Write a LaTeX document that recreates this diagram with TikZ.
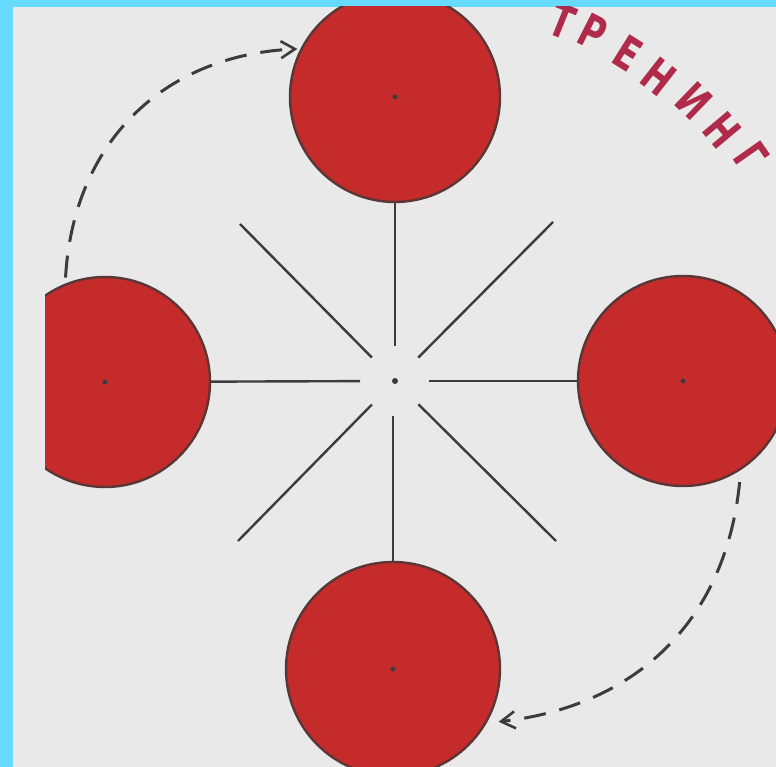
\documentclass[tikz,border=0pt]{standalone}
\usepackage{fontspec}
\newfontfamily\stencil{DejaVu Sans}
\usetikzlibrary{arrows.meta}
\definecolor{cyanbg}{HTML}{66DAFF}
\definecolor{paper}{HTML}{E9E9E9}
\definecolor{disc}{HTML}{C52B2B}
\definecolor{discedge}{HTML}{5A3636}
\definecolor{ink}{HTML}{3C3C3C}
\definecolor{word}{HTML}{B02A4A}
\tikzset{
  disc/.style={circle, fill=disc, draw=discedge, line width=2.4pt, inner sep=0pt, minimum size=210pt},
  spoke/.style={draw=ink, line width=2.4pt},
  dasharrow/.style={draw=ink, line width=3pt, dash pattern=on 22pt off 14pt,
    -{Straight Barb[length=14pt,width=17pt,line width=2.6pt]}},
  letter/.style={text=word, font=\stencil\bfseries\fontsize{46}{46}\selectfont, inner sep=0pt, rotate=#1}
}
\newcommand{\sq}[1]{\scalebox{0.72}[1]{#1}}
\begin{document}
\begin{tikzpicture}[x=1pt,y=-1pt]
\useasboundingbox (0,0) rectangle (776,767);
\fill[cyanbg] (0,0) rectangle (776,767);
\fill[paper] (13,7) rectangle (776,767);
\begin{scope}
  \clip (13,7) rectangle (776,767);
  \begin{scope}
    \clip (45,7) rectangle (776,767);
    \node[disc] (left) at (105,382) {};
  \end{scope}
  \node[disc] (top) at (395,97) {};
  \node[disc] (right) at (683,381) {};
  \node[disc, minimum size=214pt] (bottom) at (393,669) {};
  \foreach \n in {left,top,right,bottom} \fill[ink] (\n) circle (2.5pt);

  \coordinate (c) at (395,381);
  \fill[ink] (c) circle (3pt);
  \draw[spoke, shorten >=35pt] (top) -- (top |- c);
  \draw[spoke, shorten >=35pt] (bottom) -- (bottom |- c);
  \draw[spoke, shorten >=35pt] (left) -- (c);
  \draw[spoke, shorten >=34pt] (right) -- (c);
  \coordinate (ul) at (240,224);
  \coordinate (ur) at (553,222);
  \coordinate (ll) at (238,541);
  \coordinate (lr) at (556,541);
  \foreach \p in {ul,ur,ll,lr} \draw[spoke, shorten <=33pt] (c) -- (\p);

  \draw[dasharrow, shorten <=6pt, shorten >=3pt]
    (left.112) .. controls (73,144) and (162,55) .. (top.153);
  \draw[dasharrow, shorten <=12pt, shorten >=12pt]
    (right.-57) .. controls (726,620) and (637,706) .. (bottom.-30);

  \node[letter=-22] (t1) at (562,21) {\sq{Т}};
  \node[letter=-27] (t2) at (593,32) {\sq{Р}};
  \node[letter=-32] (t3) at (628,53) {\sq{Е}};
  \node[letter=-38] (t4) at (659,77) {\sq{Н}};
  \node[letter=-44] (t5) at (694,101) {\sq{И}};
  \node[letter=-50] (t6) at (722,130) {\sq{Н}};
  \node[letter=-55] (t7) at (751,157) {\sq{Г}};
\end{scope}
\end{tikzpicture}
\end{document}
